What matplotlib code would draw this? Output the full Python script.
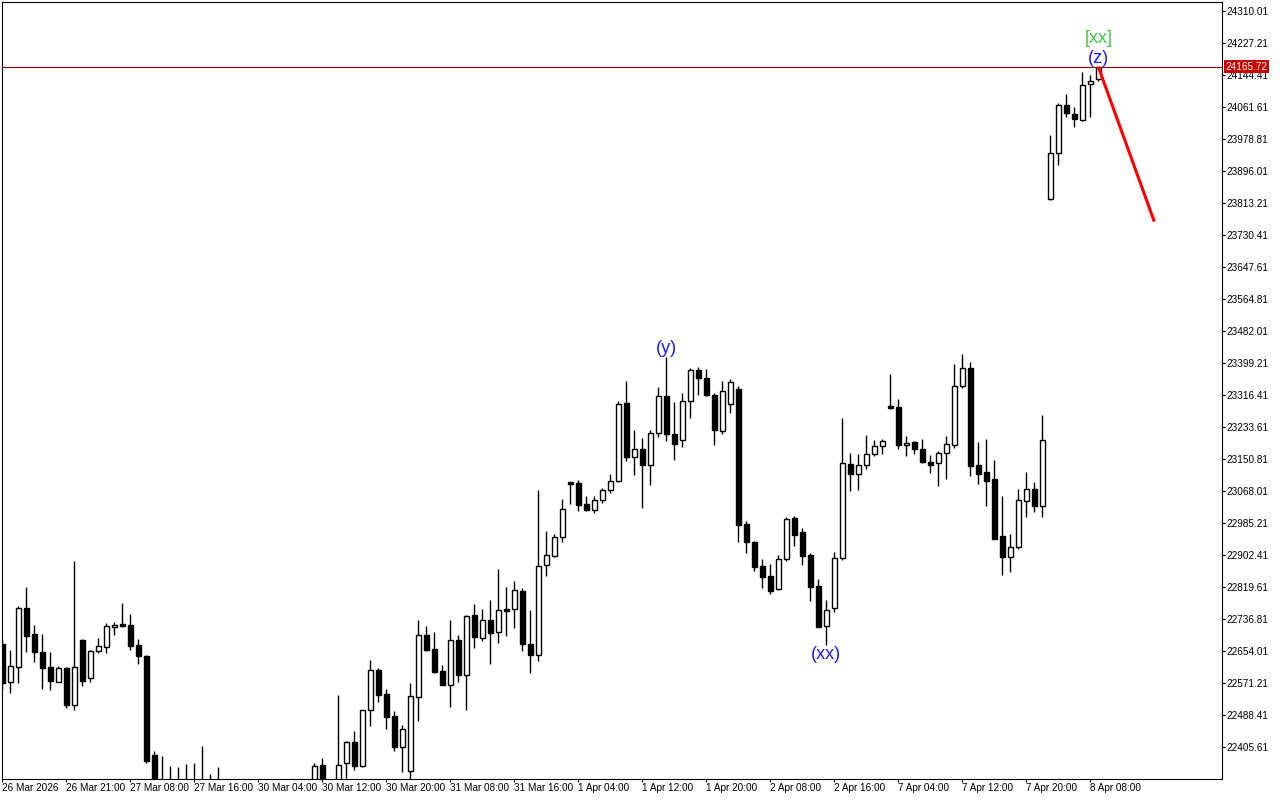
import matplotlib.pyplot as plt
import matplotlib
matplotlib.rcParams['font.family'] = ['Liberation Sans', 'DejaVu Sans']

# hourly candles, one row of OHLC per list
opens = [22671, 22575, 22613, 22766, 22697, 22651, 22613, 22575, 22610, 22515,
         22682, 22585, 22655, 22665, 22717, 22724, 22722, 22669, 22642, 22385,
         22285, 22300, 22310, 22290, 22305, 22315, 22320, 22300, 22310, 22280,
         22295, 22290, 22290, 22260, 22275, 22285, 22270, 22290, 22305, 22300,
         22358, 22300, 22300, 22363, 22418, 22357, 22501, 22604, 22542, 22485,
         22406, 22344, 22534, 22695, 22658, 22601, 22567, 22682, 22593, 22746,
         22688, 22733, 22702, 22762, 22762, 22809, 22673, 22644, 22876, 22900,
         22948, 23091, 23088, 23034, 23020, 23044, 23070, 23093, 23296, 23155,
         23177, 23136, 23217, 23313, 23215, 23200, 23300, 23380, 23360, 23316,
         23224, 23292, 23332, 22982, 22937, 22873, 22847, 22815, 22891, 22997,
         22961, 22902, 22821, 22719, 22765, 22895, 23137, 23111, 23134, 23163,
         23184, 23287, 23285, 23186, 23194, 23176, 23142, 23140, 23166, 23186,
         23339, 23385, 23134, 23116, 23100, 22951, 22898, 22924, 23041, 23072,
         23028, 23823, 23942, 24066, 24043, 24028, 24120, 24133]
highs = [22682, 22657, 22771, 22820, 22721, 22698, 22651, 22615, 22612, 22887,
         22684, 22656, 22688, 22726, 22729, 22778, 22750, 22685, 22644, 22395,
         22382, 22356, 22354, 22362, 22364, 22408, 22336, 22354, 22318, 22305,
         22315, 22310, 22312, 22290, 22300, 22310, 22300, 22315, 22318, 22364,
         22376, 22318, 22540, 22421, 22447, 22502, 22631, 22610, 22556, 22499,
         22462, 22570, 22734, 22719, 22703, 22618, 22734, 22695, 22746, 22776,
         22762, 22786, 22865, 22820, 22836, 22816, 22760, 23071, 22964, 22957,
         23047, 23092, 23096, 23055, 23055, 23076, 23112, 23301, 23353, 23227,
         23205, 23226, 23337, 23415, 23299, 23322, 23386, 23389, 23384, 23321,
         23352, 23357, 23339, 22990, 22939, 22892, 22879, 22902, 23001, 23003,
         22971, 22908, 22840, 22786, 22910, 23256, 23166, 23163, 23213, 23200,
         23203, 23371, 23305, 23210, 23197, 23202, 23160, 23171, 23210, 23397,
         23422, 23402, 23195, 23203, 23147, 23056, 22956, 23072, 23116, 23091,
         23264, 23989, 24071, 24095, 24061, 24151, 24144, 24166]
lows = [22553, 22546, 22572, 22652, 22626, 22556, 22553, 22574, 22507, 22502,
        22564, 22575, 22650, 22650, 22695, 22717, 22657, 22621, 22365, 22250,
        22240, 22260, 22270, 22270, 22280, 22280, 22280, 22270, 22262, 22250,
        22270, 22260, 22240, 22230, 22250, 22260, 22240, 22270, 22280, 22290,
        22285, 22270, 22290, 22326, 22346, 22355, 22461, 22523, 22453, 22396,
        22342, 22318, 22474, 22655, 22596, 22566, 22510, 22575, 22501, 22663,
        22680, 22621, 22675, 22693, 22713, 22655, 22598, 22629, 22848, 22897,
        22937, 23034, 23017, 23016, 23012, 23038, 23064, 23091, 23146, 23110,
        23025, 23084, 23208, 23198, 23149, 23181, 23258, 23317, 23315, 23188,
        23216, 23269, 22937, 22908, 22862, 22818, 22801, 22813, 22888, 22926,
        22877, 22784, 22716, 22670, 22755, 22889, 23069, 23071, 23126, 23159,
        23165, 23279, 23176, 23159, 23165, 23140, 23114, 23082, 23100, 23180,
        23335, 23106, 23085, 23030, 22943, 22850, 22859, 22917, 23001, 23014,
        23001, 23821, 23911, 24035, 24009, 24026, 24036, 24130]
closes = [22572, 22615, 22766, 22694, 22652, 22611, 22577, 22609, 22515, 22612,
          22577, 22654, 22667, 22719, 22721, 22719, 22668, 22642, 22369, 22280,
          22300, 22310, 22290, 22305, 22315, 22320, 22300, 22310, 22280, 22295,
          22290, 22300, 22260, 22275, 22285, 22270, 22290, 22305, 22300, 22356,
          22300, 22290, 22358, 22418, 22357, 22501, 22604, 22541, 22484, 22406,
          22451, 22537, 22695, 22657, 22600, 22567, 22682, 22593, 22744, 22691,
          22733, 22701, 22759, 22758, 22811, 22671, 22644, 22873, 22902, 22948,
          23021, 23087, 23033, 23020, 23044, 23071, 23093, 23292, 23155, 23177,
          23136, 23217, 23313, 23215, 23189, 23300, 23380, 23360, 23316, 23225,
          23326, 23349, 22981, 22937, 22872, 22846, 22810, 22891, 22995, 22955,
          22901, 22820, 22717, 22760, 22895, 23140, 23111, 23134, 23163, 23184,
          23197, 23284, 23186, 23191, 23176, 23142, 23134, 23166, 23189, 23339,
          23385, 23132, 23111, 23095, 22945, 22898, 22922, 23044, 23072, 23028,
          23199, 23942, 24066, 24045, 24030, 24118, 24128, 24165.72]

time_labels = ['26 Mar 2026', '26 Mar 21:00', '27 Mar 08:00', '27 Mar 16:00',
               '30 Mar 04:00', '30 Mar 12:00', '30 Mar 20:00', '31 Mar 08:00',
               '31 Mar 16:00', '1 Apr 04:00', '1 Apr 12:00', '1 Apr 20:00',
               '2 Apr 08:00', '2 Apr 16:00', '7 Apr 04:00', '7 Apr 12:00',
               '7 Apr 20:00', '8 Apr 08:00']
label_step = 8

price_ticks = [22405.61, 22488.41, 22571.21, 22654.01, 22736.81, 22819.61,
               22902.41, 22985.21, 23068.01, 23150.81, 23233.61, 23316.41,
               23399.21, 23482.01, 23564.81, 23647.61, 23730.41, 23813.21,
               23896.01, 23978.81, 24061.61, 24144.41, 24227.21, 24310.01]

last_price = 24165.72

# wave marks
wave_text = ['(y)', '(xx)', '(z)', '[xx]']
wave_bar = [83, 103, 137, 137]
wave_price = [23438, 22646, 24188, 24238]
wave_color = ['#1a1aff', '#1a1aff', '#1a1aff', '#3cc83c']

# forecast line
proj_bar = [137, 144]
proj_price = [24165.72, 23765]

fig = plt.figure(figsize=(12.8, 8), dpi=100)
ax = fig.add_axes([2 / 1280, 21 / 800, 1220 / 1280, 777 / 800])

n = len(opens)
xs = list(range(n))
bottoms = [min(o, c) for o, c in zip(opens, closes)]
heights = [abs(c - o) for o, c in zip(opens, closes)]
fills = ['white' if c >= o else 'black' for o, c in zip(opens, closes)]

ax.vlines(xs, lows, highs, color='black', linewidth=1, zorder=1)
ax.bar(xs, heights, bottom=bottoms, width=0.55, color=fills,
       edgecolor='black', linewidth=1, zorder=2)

ax.axhline(last_price, color='#7a0000', linewidth=0.8, zorder=3)
ax.plot(proj_bar, proj_price, color='#ff0000', linewidth=2.2,
        solid_capstyle='butt', zorder=4)

for t, xb, yp, col in zip(wave_text, wave_bar, wave_price, wave_color):
    ax.text(xb, yp, t, color=col, fontsize=13, ha='center', va='center', zorder=5)

ax.set_xlim(-0.04, 152.46)
ax.set_ylim(22322.8, 24333.3)

ax.set_xticks(list(range(0, label_step * len(time_labels), label_step)))
ax.set_xticklabels(time_labels, ha='left')
ax.yaxis.tick_right()
ax.set_yticks(price_ticks)
ax.set_yticklabels([f'{p:.2f}' for p in price_ticks])
ax.tick_params(axis='both', direction='out', length=2.2, width=0.8,
               labelsize=7.2, pad=1, colors='black')

ax.text(1.0025, last_price, f'{last_price:.2f}', transform=ax.get_yaxis_transform(),
        color='white', fontsize=7.2, ha='left', va='center', zorder=10, clip_on=False,
        bbox=dict(boxstyle='square,pad=0.15', facecolor='#c80000', edgecolor='none'))

for s in ax.spines.values():
    s.set_linewidth(0.8)
    s.set_color('black')

plt.savefig('out.png', dpi=100)
